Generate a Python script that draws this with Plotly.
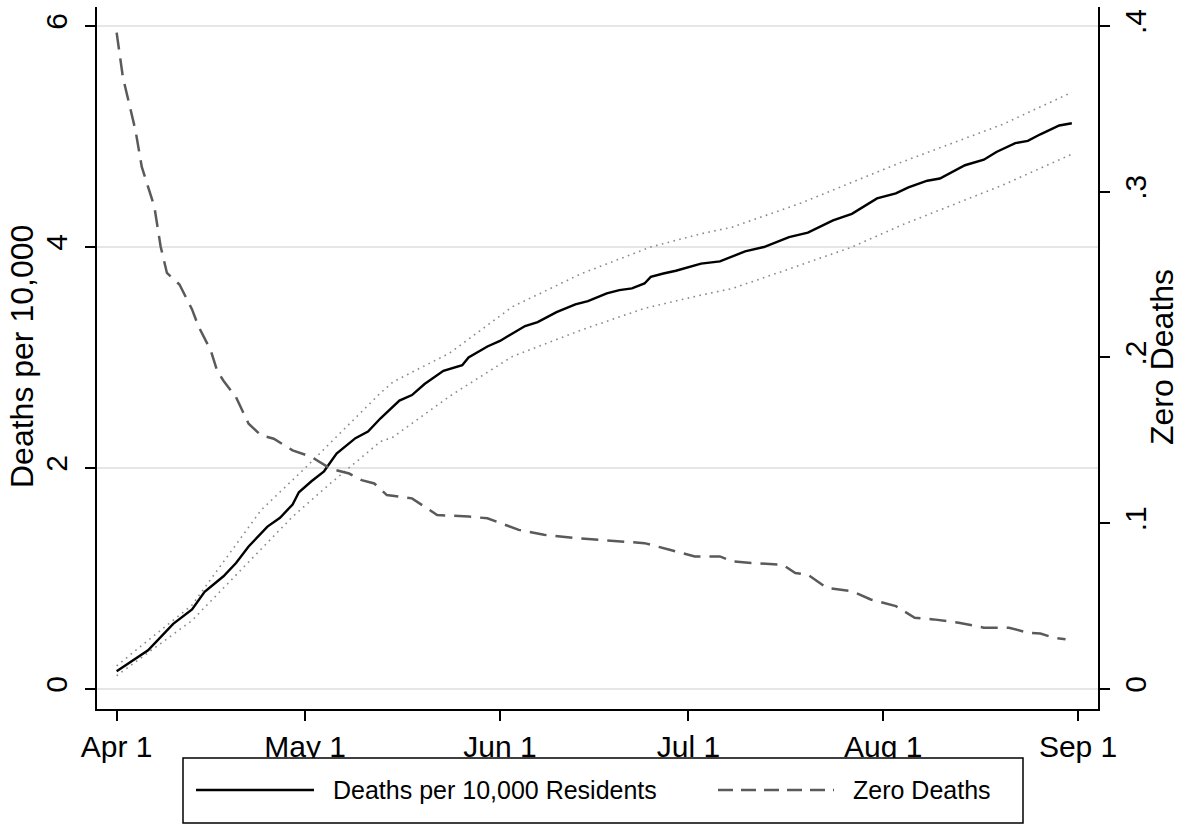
import pandas as pd
import plotly.graph_objects as go

START = pd.Timestamp("2020-04-01")

# Deaths per 10,000 residents (left axis), by day offset from Apr 1
death_days = [0, 3, 5, 9, 12, 14, 17, 19, 21, 24, 26, 28, 29, 31, 33, 35, 38, 40, 42,
              45, 47, 49, 52, 55, 56, 59, 61, 65, 67, 70, 73, 75, 78, 80, 82, 84, 85,
              87, 89, 93, 96, 100, 103, 107, 110, 114, 117, 121, 124, 126, 129, 131,
              135, 138, 140, 143, 145, 147, 150, 152]
deaths = [0.16, 0.27, 0.35, 0.59, 0.72, 0.88, 1.02, 1.14, 1.29, 1.47, 1.55, 1.67, 1.78,
          1.88, 1.97, 2.13, 2.27, 2.33, 2.45, 2.61, 2.66, 2.76, 2.88, 2.93, 3.00, 3.10,
          3.15, 3.285, 3.32, 3.41, 3.48, 3.51, 3.58, 3.61, 3.625, 3.67, 3.73, 3.76,
          3.785, 3.85, 3.87, 3.96, 4.00, 4.09, 4.13, 4.24, 4.30, 4.44, 4.485, 4.54,
          4.60, 4.62, 4.74, 4.79, 4.86, 4.94, 4.96, 5.02, 5.10, 5.12]

# Confidence band around deaths per 10,000
ci_upper_days = [0, 12, 23, 28, 30, 42, 44, 53, 63, 74, 85, 93, 98, 109, 125, 141, 152]
ci_upper = [0.21, 0.76, 1.62, 1.89, 2.00, 2.68, 2.78, 3.04, 3.46, 3.76, 4.00, 4.12,
            4.18, 4.40, 4.77, 5.11, 5.40]
ci_lower_days = [0, 12, 28, 34, 42, 44, 53, 63, 74, 84, 93, 98, 109, 117, 125, 141, 152]
ci_lower = [0.12, 0.62, 1.56, 1.86, 2.24, 2.28, 2.65, 3.01, 3.25, 3.445, 3.565, 3.625,
            3.84, 4.00, 4.20, 4.56, 4.84]

# Share with zero deaths (right axis)
zero_days = [0, 1, 3, 4, 6, 7, 8, 10, 12, 13, 15, 16, 17, 19, 21, 23, 25, 28, 31, 34,
             37, 39, 41, 43, 47, 51, 56, 59, 64, 68, 73, 77, 81, 84, 88, 92, 96, 98,
             101, 106, 108, 110, 113, 117, 120, 124, 127, 130, 134, 138, 142, 145,
             147, 149, 151]
zero_share = [0.396, 0.369, 0.337, 0.315, 0.291, 0.267, 0.251, 0.244, 0.229, 0.219,
              0.204, 0.192, 0.186, 0.176, 0.160, 0.153, 0.151, 0.144, 0.140, 0.133,
              0.130, 0.126, 0.124, 0.117, 0.115, 0.105, 0.104, 0.103, 0.096, 0.093,
              0.091, 0.090, 0.089, 0.088, 0.084, 0.080, 0.080, 0.077, 0.076, 0.075,
              0.070, 0.069, 0.061, 0.059, 0.054, 0.050, 0.043, 0.042, 0.040, 0.037,
              0.037, 0.034, 0.0335, 0.031, 0.030]

x_tick_dates = ["2020-04-01", "2020-05-01", "2020-06-01", "2020-07-01",
                "2020-08-01", "2020-09-01"]
x_tick_labels = ["Apr 1", "May 1", "Jun 1", "Jul 1", "Aug 1", "Sep 1"]
left_ticks = [0, 2, 4, 6]
right_ticks = [0, 0.1, 0.2, 0.3, 0.4]
right_labels = ["0", ".1", ".2", ".3", ".4"]


def to_dates(days):
    return START + pd.to_timedelta(days, unit="D")


FONT = "Arial, Liberation Sans, sans-serif"
W, H = 1184, 840
ML, MR, MT, MB = 97, 86, 7, 131
PW, PH = W - ML - MR, H - MT - MB


def px_x(x):
    return (x - ML) / PW


def px_y(y):
    return (H - MB - y) / PH


CI_LINE = dict(color="#8a8a8a", width=1.6, dash="1.6px,4.4px")

fig = go.Figure()
fig.add_trace(go.Scatter(x=to_dates(ci_upper_days), y=ci_upper, mode="lines",
                         line=CI_LINE, showlegend=False, hoverinfo="skip"))
fig.add_trace(go.Scatter(x=to_dates(ci_lower_days), y=ci_lower, mode="lines",
                         line=CI_LINE, showlegend=False, hoverinfo="skip"))
fig.add_trace(go.Scatter(x=to_dates(death_days), y=deaths, mode="lines",
                         name="Deaths per 10,000 Residents",
                         line=dict(color="#000000", width=2.4), showlegend=False))
fig.add_trace(go.Scatter(x=to_dates(zero_days), y=zero_share, mode="lines",
                         name="Zero Deaths", yaxis="y2",
                         line=dict(color="#5a5a5a", width=2.5, dash="17px,9px"),
                         showlegend=False))

axis_common = dict(showline=True, linecolor="#000000", linewidth=2, ticks="outside",
                   ticklen=10, tickwidth=2, tickcolor="#000000",
                   tickfont=dict(family=FONT, size=30, color="#000000"))

fig.update_layout(
    width=W, height=H,
    margin=dict(l=ML, r=MR, t=MT, b=MB, pad=0),
    paper_bgcolor="#ffffff", plot_bgcolor="#ffffff",
    font=dict(family=FONT, color="#000000"),
    xaxis=dict(type="date", range=["2020-03-28 21:00", "2020-09-04 04:00"],
               tickmode="array", tickvals=x_tick_dates, ticktext=x_tick_labels,
               showgrid=False, zeroline=False, **axis_common),
    yaxis=dict(range=[-0.181, 6.172], tickmode="array", tickvals=left_ticks,
               ticktext=[str(v) for v in left_ticks], tickangle=-90,
               ticklabelstandoff=6,
               showgrid=True, gridcolor="#e6e6e6", gridwidth=2, zeroline=False,
               **axis_common),
    yaxis2=dict(range=[-0.01207, 0.41146], overlaying="y", side="right",
                tickmode="array", tickvals=right_ticks, ticktext=right_labels,
                tickangle=-90, showgrid=False, zeroline=False,
                **axis_common),
)

# Axis titles and the legend box below the plot
legend_y = px_y(790)
shapes = [
    dict(type="rect", xref="paper", yref="paper", x0=px_x(183), x1=px_x(1023),
         y0=px_y(758), y1=px_y(823), line=dict(color="#000000", width=1.5),
         fillcolor="#ffffff"),
    dict(type="line", xref="paper", yref="paper", x0=px_x(196), x1=px_x(314),
         y0=legend_y, y1=legend_y, line=dict(color="#000000", width=2.4)),
    dict(type="line", xref="paper", yref="paper", x0=px_x(718), x1=px_x(834),
         y0=legend_y, y1=legend_y,
         line=dict(color="#5a5a5a", width=2.5, dash="15px,8px")),
]
annotations = [
    dict(text="Deaths per 10,000", xref="paper", yref="paper",
         x=px_x(22), y=px_y(357), xanchor="center", yanchor="middle",
         textangle=-90, showarrow=False,
         font=dict(family=FONT, size=32, color="#000000")),
    dict(text="Zero Deaths", xref="paper", yref="paper",
         x=px_x(1162), y=px_y(357), xanchor="center", yanchor="middle",
         textangle=-90, showarrow=False,
         font=dict(family=FONT, size=32, color="#000000")),
    dict(text="Deaths per 10,000 Residents", xref="paper", yref="paper",
         x=px_x(331), y=legend_y, xanchor="left", yanchor="middle", showarrow=False,
         font=dict(family=FONT, size=25, color="#000000")),
    dict(text="Zero Deaths", xref="paper", yref="paper",
         x=px_x(851), y=legend_y, xanchor="left", yanchor="middle", showarrow=False,
         font=dict(family=FONT, size=25, color="#000000")),
]
fig.update_layout(shapes=shapes, annotations=annotations)

fig.write_html("out.html")
